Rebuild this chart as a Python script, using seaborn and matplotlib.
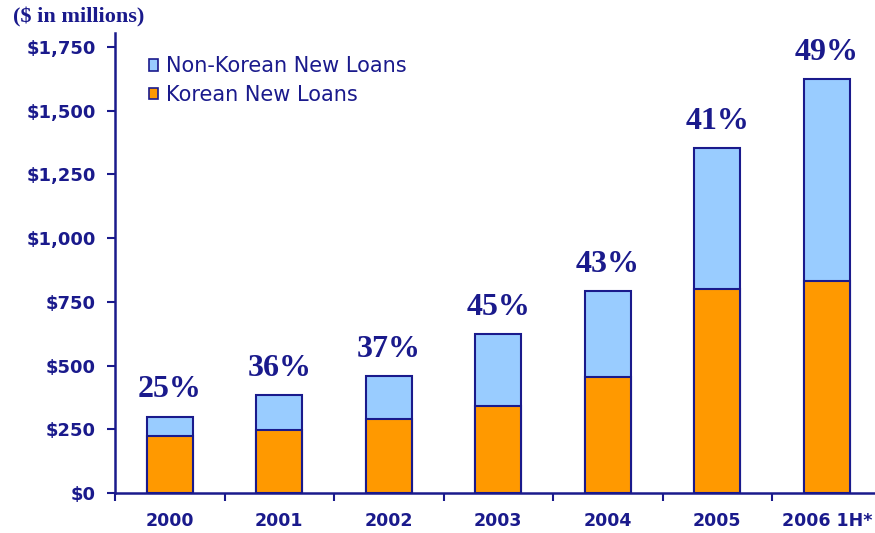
import numpy as np
import pandas as pd
import seaborn as sns
import matplotlib.pyplot as plt
from matplotlib.patches import Patch
from matplotlib.ticker import FixedLocator

years = ['2000', '2001', '2002', '2003', '2004', '2005', '2006 1H*']
korean = [225, 247, 290, 343, 455, 800, 830]
total = [300, 385, 460, 623, 793, 1352, 1625]
pct_labels = ['25%', '36%', '37%', '45%', '43%', '41%', '49%']

navy = '#1a1a8c'
light_blue = '#99ccff'
orange = '#ff9900'

df = pd.DataFrame({'year': years, 'korean': korean, 'total': total})

sns.set_style('white')
plt.rcParams['font.family'] = ['DejaVu Sans']

fig = plt.figure(figsize=(8.75, 5.33), dpi=100)
ax = fig.add_axes([115 / 875, 40 / 533, 760 / 875, 460 / 533])

sns.barplot(data=df, x='year', y='total', color=light_blue, edgecolor=navy,
            linewidth=1.5, width=0.42, saturation=1, ax=ax)
sns.barplot(data=df, x='year', y='korean', color=orange, edgecolor=navy,
            linewidth=1.5, width=0.42, saturation=1, ax=ax)

for i, (t, lab) in enumerate(zip(total, pct_labels)):
    ax.text(i, t + 75, lab, ha='center', va='baseline', color=navy,
            fontsize=23, fontweight='bold', family='Liberation Serif')

ax.set_xlim(-0.5, 6.44)
ax.set_ylim(0, 1805)
ax.set_yticks(np.arange(0, 1751, 250))
ax.set_yticklabels(['${:,}'.format(v) for v in range(0, 1751, 250)])
ax.set_xlabel('')
ax.set_ylabel('')

ax.xaxis.set_minor_locator(FixedLocator(np.arange(-0.5, 6.5, 1)))
ax.tick_params(axis='x', which='major', length=0, pad=14, labelsize=12.5,
               labelcolor=navy)
ax.tick_params(axis='x', which='minor', length=6, width=1.5, color=navy,
               direction='out', bottom=True)
ax.tick_params(axis='y', length=6, width=1.5, color=navy, direction='out',
               labelsize=13, labelcolor=navy, pad=8, left=True)
for lab in ax.get_xticklabels() + ax.get_yticklabels():
    lab.set_fontweight('bold')

sns.despine(ax=ax)
for side in ['left', 'bottom']:
    ax.spines[side].set_color(navy)
    ax.spines[side].set_linewidth(1.8)

handles = [Patch(facecolor=light_blue, edgecolor=navy, linewidth=1.2),
           Patch(facecolor=orange, edgecolor=navy, linewidth=1.2)]
ax.legend(handles, ['Non-Korean New Loans', 'Korean New Loans'],
          loc='upper left', bbox_to_anchor=(0.02, 0.99), frameon=False,
          fontsize=15, labelcolor=navy, handlelength=0.45, handleheight=0.45,
          handletextpad=0.35, labelspacing=0.42)

fig.text(13 / 875, 1 - 17 / 533, '($ in millions)', ha='left', va='center',
         color=navy, fontsize=16, fontweight='bold', family='Liberation Serif')

fig.savefig('out.png', dpi=100)
